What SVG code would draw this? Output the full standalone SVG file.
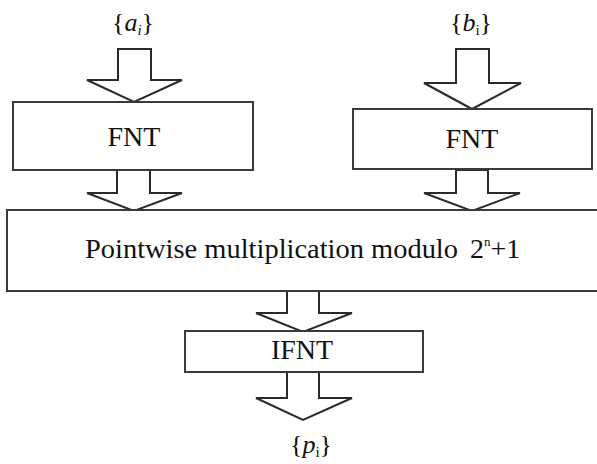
<svg xmlns="http://www.w3.org/2000/svg" width="597" height="464" viewBox="0 0 597 464">
<style>
.box{fill:#fff;stroke:#3a3a3a;stroke-width:2}
.arr{fill:#fff;stroke:#2a2a2a;stroke-width:2;stroke-linejoin:miter}
text{font-family:'Liberation Serif','Times New Roman',Times,serif;fill:#111}
.t{font-size:28px;text-anchor:middle}
.m{font-size:26px;text-anchor:middle}
</style>
<rect width="597" height="464" fill="#fff"/>
<g id="connectors">
<path class="arr" d="M118,49 H151 V80 H182 L134,102 L87,80 H118 Z"/>
<path class="arr" d="M456,49 H489 V83 H521 L472,109 L424,83 H456 Z"/>
<path class="arr" d="M117,170 H150 V193 H182 L134,211 L87,193 H117 Z"/>
<path class="arr" d="M456,170 H488 V193 H520 L472,211 L424,193 H456 Z"/>
<path class="arr" d="M287,291 H319 V313 H352 L303,332 L256,313 H287 Z"/>
<path class="arr" d="M287,372 H319 V398 H352 L303,420 L256,398 H287 Z"/>
</g>
<g id="node-a"><text class="m" x="133" y="31">{<tspan font-style="italic">a</tspan><tspan font-style="italic" font-size="15" dy="4">i</tspan><tspan dy="-4">}</tspan></text></g>
<g id="node-b"><text class="m" x="471" y="31">{<tspan font-style="italic">b</tspan><tspan font-size="15" dy="4">i</tspan><tspan dy="-4">}</tspan></text></g>
<g id="node-fnt1"><rect class="box" x="13" y="102" width="240" height="68"/><text class="t" x="134" y="146">FNT</text></g>
<g id="node-fnt2"><rect class="box" x="353" y="109" width="239" height="60"/><text class="t" x="472" y="148">FNT</text></g>
<g id="node-mult"><rect class="box" x="7" y="210" width="600" height="81"/>
<text class="t" x="85" y="258" style="text-anchor:start" textLength="373" lengthAdjust="spacingAndGlyphs">Pointwise multiplication modulo</text>
<text class="t" x="470" y="258" style="text-anchor:start">2<tspan font-size="13" dy="-12">n</tspan><tspan dy="12">+1</tspan></text></g>
<g id="node-ifnt"><rect class="box" x="185" y="331" width="238" height="41"/><text class="t" x="302" y="359">IFNT</text></g>
<g id="node-p"><text class="m" x="311" y="453">{<tspan font-style="italic">p</tspan><tspan font-size="15" dy="4">i</tspan><tspan dy="-4">}</tspan></text></g>
</svg>
